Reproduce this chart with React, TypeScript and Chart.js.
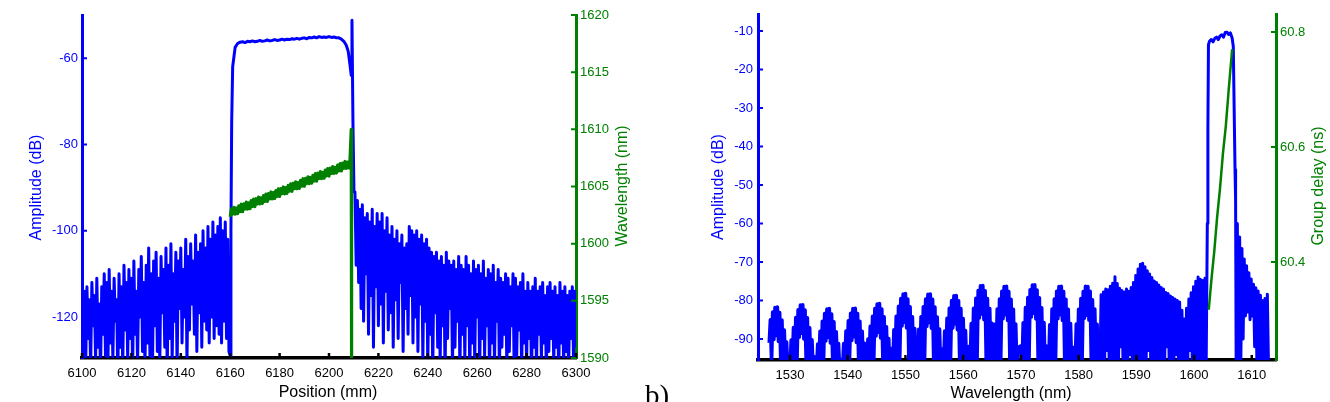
import React, { useEffect, useRef } from "react";
import { Chart, registerables } from "chart.js";

Chart.register(...registerables);

const BLUE = "#0000ff";
const GREEN = "#008000";
const BLACK = "#000000";
const FONT = '"Liberation Sans", Arial, Helvetica, sans-serif';

// ================= Panel (a): amplitude & wavelength vs position =================
const positionTicks = [6100, 6120, 6140, 6160, 6180, 6200, 6220, 6240, 6260, 6280, 6300];
const amplitudeTicksA = [-120, -100, -80, -60];
const wavelengthTicksA = [1590, 1595, 1600, 1605, 1610, 1615, 1620];

// noise floor before the grating (6100 .. 6159.5 mm, 0.5 mm sampling)
const preStart = 6100;
const preStep = 0.5;
const preAmplitude = [
  -112, -128, -114, -131, -113, -125, -116, -132, -112, -122,
  -115, -130, -111, -127, -117, -133, -113, -124, -110, -129,
  -112, -131, -109, -126, -114, -130, -111, -121, -116, -134,
  -110, -127, -113, -132, -108, -123, -112, -130, -109, -125,
  -111, -133, -107, -124, -114, -131, -109, -120, -106, -128,
  -112, -132, -108, -126, -104, -129, -110, -134, -107, -122,
  -105, -128, -111, -131, -106, -119, -109, -127, -104, -133,
  -108, -125, -103, -130, -110, -121, -105, -132, -107, -118,
  -104, -126, -109, -120, -102, -131, -106, -123, -103, -117,
  -107, -124, -101, -128, -105, -119, -103, -127, -100, -121,
  -104, -123, -99, -126, -102, -120, -98, -125, -101, -122,
  -99, -124, -97, -126, -100, -121, -98, -125, -102, -128,
];

// rising edge of the grating
const edgePosition = [6160, 6160.3, 6160.6, 6161, 6162, 6163];
const edgeAmplitude = [-129, -100, -75, -62, -57.5, -56.6];

// grating plateau (6164 .. 6203 mm, 1 mm sampling)
const plateauStart = 6164;
const plateauStep = 1;
const plateauAmplitude = [
  -56.3, -56.2, -56.4, -56.1, -56.2, -56.0, -56.2, -56.1, -55.9, -56.1,
  -56.0, -55.8, -56.0, -55.9, -55.7, -55.9, -55.8, -55.6, -55.8, -55.6,
  -55.7, -55.5, -55.6, -55.4, -55.6, -55.4, -55.3, -55.5, -55.2, -55.3,
  -55.1, -55.3, -55.0, -55.2, -55.1, -55.2, -55.0, -55.2, -55.1, -55.3,
];

// end of grating with reflection spike
const spikePosition = [6204, 6205, 6206, 6207, 6207.8, 6208.6, 6209.0, 6209.3, 6209.7, 6210.1];
const spikeAmplitude = [-55.3, -55.6, -56.1, -57.0, -58.5, -62.0, -64.0, -51.2, -75, -91];

// noise after the grating (6210.5 .. 6300 mm, 0.5 mm sampling)
const postStart = 6210.5;
const postStep = 0.5;
const postAmplitude = [
  -91, -108, -93, -112, -95, -118, -94, -121, -97, -110,
  -96, -124, -98, -115, -95, -127, -99, -113, -96, -122,
  -98, -117, -96, -126, -100, -114, -97, -123, -101, -119,
  -99, -127, -102, -116, -100, -125, -103, -112, -101, -128,
  -104, -118, -103, -124, -99, -115, -100, -126, -101, -120,
  -100, -128, -102, -117, -101, -130, -103, -121, -102, -132,
  -104, -124, -105, -133, -106, -119, -105, -127, -107, -131,
  -106, -122, -108, -134, -105, -125, -107, -118, -108, -132,
  -107, -127, -109, -121, -106, -133, -108, -124, -109, -130,
  -106, -122, -108, -134, -110, -126, -107, -131, -109, -120,
  -108, -133, -110, -125, -107, -129, -111, -122, -109, -134,
  -110, -126, -108, -131, -112, -121, -109, -133, -111, -127,
  -112, -124, -110, -132, -111, -128, -113, -122, -110, -134,
  -111, -129, -113, -123, -112, -133, -110, -126, -114, -131,
  -112, -125, -114, -134, -113, -127, -111, -132, -114, -124,
  -113, -130, -112, -126, -115, -133, -113, -128, -112, -125,
  -114, -131, -113, -127, -115, -134, -112, -126, -114, -132,
  -113, -128, -115, -133, -114, -125, -113, -130, -114, -127,
];

// local wavelength along the grating (6160 .. 6208.5 mm, 0.5 mm sampling)
const chirpStart = 6160;
const chirpStep = 0.5;
const chirpWavelength = [
  1602.35, 1603.04, 1602.59, 1603.18, 1602.58, 1603.12, 1602.62, 1603.31, 1602.81, 1603.45,
  1602.8, 1603.49, 1603.03, 1603.63, 1603.02, 1603.57, 1603.06, 1603.76, 1603.25, 1603.9,
  1603.24, 1603.93, 1603.48, 1604.07, 1603.47, 1604.01, 1603.51, 1604.2, 1603.7, 1604.34,
  1603.69, 1604.38, 1603.92, 1604.52, 1603.91, 1604.46, 1603.95, 1604.65, 1604.14, 1604.79,
  1604.13, 1604.82, 1604.37, 1604.96, 1604.36, 1604.9, 1604.4, 1605.09, 1604.59, 1605.23,
  1604.58, 1605.27, 1604.81, 1605.41, 1604.8, 1605.35, 1604.84, 1605.54, 1605.03, 1605.68,
  1605.02, 1605.71, 1605.26, 1605.85, 1605.25, 1605.79, 1605.29, 1605.98, 1605.48, 1606.12,
  1605.47, 1606.16, 1605.7, 1606.3, 1605.69, 1606.24, 1605.73, 1606.43, 1605.92, 1606.57,
  1605.91, 1606.6, 1606.15, 1606.74, 1606.14, 1606.68, 1606.18, 1606.87, 1606.37, 1607.01,
  1606.36, 1607.05, 1606.59, 1607.19, 1606.58, 1607.13, 1606.62, 1607.32,
];
const chirpEndPosition = [6209.0, 6209.15];
const chirpEndWavelength = [1610, 1588];

// ================= Panel (b): spectrum & group delay =================
const wavelengthTicksB = [1530, 1540, 1550, 1560, 1570, 1580, 1590, 1600, 1610];
const amplitudeTicksB = [-90, -80, -70, -60, -50, -40, -30, -20, -10];
const delayTicks = [60.4, 60.6, 60.8];

// interference fringes: centre wavelength of each fringe, samples every 0.2 nm from centre-2.2 nm
const fringeCenters = [1527.6, 1532.0, 1536.6, 1541.1, 1545.3, 1549.8, 1554.1, 1558.6, 1563.2, 1567.3, 1572.2, 1576.8, 1581.4];
const fringeStep = 0.2;
const fringeAmplitude: (number | null)[][] = [
  [null, null, null, null, null, -91, -85.0, -96, -83.0, -90.1, -81.8, -89.1, -81.7, -90.6, -83.1, -96, -85.1, -97, -87.7, -97, -90.8, -98, -95.2],
  [-94.5, -98, -90.3, -97, -87.0, -97, -84.4, -96, -82.4, -89.5, -81.2, -88.5, -81.1, -90.0, -82.5, -96, -84.5, -97, -87.1, -97, -90.2, -98, -94.6],
  [-95.5, -98, -91.3, -97, -88.0, -97, -85.4, -96, -83.4, -90.5, -82.2, -89.5, -82.1, -91.0, -83.5, -96, -85.5, -97, -88.1, -97, -91.2, -98, -95.6],
  [-95.4, -98, -91.2, -97, -87.9, -97, -85.3, -96, -83.3, -90.4, -82.1, -89.4, -82.0, -90.9, -83.4, -96, -85.4, -97, -88.0, -97, -91.1, -98, -95.5],
  [-94.2, -98, -90.0, -97, -86.7, -97, -84.1, -96, -82.1, -89.2, -80.9, -88.2, -80.8, -89.7, -82.2, -96, -84.2, -97, -86.8, -97, -89.9, -98, -94.3],
  [-92.5, -98, -87.6, -97, -84.1, -97, -81.5, -96, -79.5, -86.6, -78.3, -85.6, -78.2, -87.1, -79.6, -96, -81.6, -97, -84.2, -97, -87.3, -98, -92.5],
  [-92.6, -98, -87.5, -97, -84.2, -97, -81.6, -96, -79.6, -86.7, -78.4, -85.7, -78.3, -87.2, -79.7, -96, -81.7, -97, -84.3, -97, -87.4, -98, -92.6],
  [-93.0, -98, -87.9, -97, -84.6, -97, -82.0, -96, -80.0, -87.1, -78.8, -86.1, -78.7, -87.6, -80.1, -96, -82.1, -97, -84.7, -97, -87.8, -98, -93.0],
  [-92.0, -98, -86.0, -97, -82.0, -97, -79.4, -96, -77.4, -84.5, -76.2, -83.5, -76.1, -85.0, -77.5, -96, -79.5, -97, -82.1, -97, -85.9, -98, -92.0],
  [-92.2, -98, -86.2, -97, -82.2, -97, -79.6, -96, -77.6, -84.7, -76.4, -83.7, -76.3, -85.2, -77.7, -96, -79.7, -97, -82.3, -97, -86.1, -98, -92.2],
  [-91.8, -98, -85.8, -97, -81.8, -97, -79.2, -96, -77.2, -84.3, -76.0, -83.3, -75.9, -84.8, -77.3, -96, -79.3, -97, -81.9, -97, -85.7, -98, -91.8],
  [-92.2, -98, -86.3, -97, -82.2, -97, -79.6, -96, -77.6, -84.7, -76.4, -83.7, -76.3, -85.2, -77.7, -96, -79.7, -97, -82.3, -97, -86.0, -98, -92.2],
  [-92.2, -98, -86.1, -97, -82.3, -97, -79.5, -96, -77.7, -84.6, -76.3, -83.8, -76.4, -85.1, -77.6, -96, -79.8, -97, -82.2, -97, -86.2, -98, -92.2],
];

// dense noise band (1583.7 .. 1602.1 nm, 0.2 nm sampling)
const denseStart = 1583.7;
const denseStep = 0.2;
const denseAmplitude = [
  -97, -78.5, -96, -77.8, -97, -77.0, -93, -77.2, -97, -76.3,
  -96, -75.5, -97, -73.8, -95, -75.6, -97, -76.8, -92, -77.4,
  -97, -77.8, -96, -77.0, -97, -77.6, -94, -76.6, -97, -75.3,
  -96, -73.5, -97, -71.8, -95, -70.6, -97, -70.3, -96, -71.2,
  -97, -72.3, -93, -73.1, -97, -74.0, -96, -74.9, -97, -75.3,
  -95, -76.0, -97, -76.6, -96, -77.0, -97, -77.9, -92, -78.2,
  -97, -78.8, -96, -79.2, -97, -79.6, -94, -80.0, -97, -80.4,
  -96, -82.5, -97, -84.8, -96, -82.0, -97, -79.6, -93, -78.0,
  -97, -76.4, -96, -75.0, -97, -73.9, -95, -74.5, -97, -74.8,
  -96, -74.2, -97,
];

// grating reflection band
const peakWavelength = [1602.3, 1602.4, 1602.5, 1602.7, 1603.0, 1603.3, 1603.6, 1603.9, 1604.2, 1604.5, 1604.8, 1605.1, 1605.4, 1605.7, 1606.0, 1606.3, 1606.6, 1606.8, 1606.95, 1607.1, 1607.2];
const peakAmplitude = [-60, -35, -13.5, -12.6, -12.2, -12.8, -11.9, -11.6, -12.2, -11.3, -11.0, -11.6, -10.4, -10.3, -10.9, -10.5, -11.8, -14, -30, -46, -54];

// decaying tail after the band (1607.3 .. 1612.9 nm, 0.2 nm sampling)
const tailStart = 1607.3;
const tailStep = 0.2;
const tailAmplitude = [
  -97, -60, -96, -63.5, -97, -66.5, -90, -69.2, -84, -71.0,
  -83, -72.8, -85, -74.4, -84, -75.8, -92, -76.7, -97, -77.5,
  -96, -78.6, -97, -80.0, -97, -79.5, -96, -78.4, -97,
];

// group delay across the band
const delayWavelength = [1602.55, 1603.0, 1603.5, 1604.0, 1604.5, 1605.0, 1605.5, 1606.0, 1606.6];
const delayNs = [60.317, 60.368, 60.418, 60.478, 60.528, 60.588, 60.636, 60.699, 60.77];

// ================= helpers =================
type Pt = { x: number; y: number };
function seq(start: number, step: number, ys: (number | null)[]): Pt[] {
  const out: Pt[] = [];
  ys.forEach((y, i) => {
    if (y !== null) out.push({ x: +(start + i * step).toFixed(3), y });
  });
  return out;
}
function pairs(xs: number[], ys: number[]): Pt[] {
  return xs.map((x, i) => ({ x, y: ys[i] }));
}

type TitleSpec = { text: string; x: number; y: number; rot: boolean; color: string };
type TickSpec = { scaleId: string; side: "bottom" | "left" | "right"; color: string; values: number[]; width: number };

function decorPlugin(titles: TitleSpec[], ticks: TickSpec[]) {
  return {
    id: "decor",
    afterDraw(chart: any) {
      const ctx = chart.ctx as CanvasRenderingContext2D;
      const a = chart.chartArea;
      ctx.save();
      for (const t of ticks) {
        const s = chart.scales[t.scaleId];
        ctx.strokeStyle = t.color;
        ctx.lineWidth = t.width;
        ctx.beginPath();
        for (const v of t.values) {
          const p = s.getPixelForValue(v);
          if (t.side === "bottom") {
            ctx.moveTo(p, a.bottom);
            ctx.lineTo(p, a.bottom - 5);
          } else if (t.side === "left") {
            ctx.moveTo(a.left, p);
            ctx.lineTo(a.left + 5, p);
          } else {
            ctx.moveTo(a.right, p);
            ctx.lineTo(a.right - 5, p);
          }
        }
        ctx.stroke();
      }
      ctx.font = `16px ${FONT}`;
      for (const t of titles) {
        ctx.save();
        ctx.fillStyle = t.color;
        ctx.textAlign = "center";
        ctx.textBaseline = "alphabetic";
        ctx.translate(t.x, t.y);
        if (t.rot) ctx.rotate(-Math.PI / 2);
        ctx.fillText(t.text, 0, 0);
        ctx.restore();
      }
      ctx.restore();
    },
  };
}

function axisCfg(o: {
  position: string;
  min: number;
  max: number;
  ticks: number[];
  color: string;
  size: number;
  padding: number;
  borderWidth: number;
}) {
  const horizontal = o.position === "bottom";
  return {
    type: "linear",
    position: o.position,
    min: o.min,
    max: o.max,
    z: 1,
    afterBuildTicks: (s: any) => {
      s.ticks = o.ticks.map((v) => ({ value: v }));
    },
    afterFit: (s: any) => {
      if (horizontal) s.height = o.size;
      else s.width = o.size;
    },
    grid: { display: false, drawTicks: false },
    border: { display: true, color: o.color, width: o.borderWidth },
    ticks: {
      color: o.color,
      font: { family: FONT, size: 13 },
      padding: o.padding,
      autoSkip: false,
      maxRotation: 0,
      callback: (v: any) => String(v),
    },
  };
}

function lineDs(data: Pt[], color: string, axisId: string, width: number, order: number) {
  return {
    data,
    yAxisID: axisId,
    borderColor: color,
    backgroundColor: color,
    borderWidth: width,
    pointRadius: 0,
    tension: 0,
    fill: false,
    borderJoinStyle: "round",
    clip: 0,
    order,
  };
}

function baseOptions(padTop: number, scales: any) {
  return {
    responsive: false,
    animation: false,
    events: [],
    layout: { padding: { top: padTop, left: 0, right: 0, bottom: 0 } },
    plugins: { legend: { display: false }, tooltip: { enabled: false }, title: { display: false } },
    scales,
  };
}

export default function App() {
  const refA = useRef<HTMLCanvasElement>(null);
  const refB = useRef<HTMLCanvasElement>(null);

  useEffect(() => {
    const blueA = [
      ...seq(preStart, preStep, preAmplitude),
      ...pairs(edgePosition, edgeAmplitude),
      ...seq(plateauStart, plateauStep, plateauAmplitude),
      ...pairs(spikePosition, spikeAmplitude),
      ...seq(postStart, postStep, postAmplitude),
    ];
    const greenA = [...seq(chirpStart, chirpStep, chirpWavelength), ...pairs(chirpEndPosition, chirpEndWavelength)];

    const chartA = new Chart(refA.current as HTMLCanvasElement, {
      type: "line",
      data: {
        datasets: [lineDs(blueA, BLUE, "y", 3, 1), lineDs(greenA, GREEN, "y1", 3.2, 0)] as any,
      },
      options: baseOptions(15, {
        x: axisCfg({ position: "bottom", min: 6100, max: 6300, ticks: positionTicks, color: BLACK, size: 44, padding: 8, borderWidth: 3.5 }),
        y: axisCfg({ position: "left", min: -129.5, max: -50, ticks: amplitudeTicksA, color: BLUE, size: 82, padding: 4, borderWidth: 3 }),
        y1: axisCfg({ position: "right", min: 1590, max: 1620, ticks: wavelengthTicksA, color: GREEN, size: 84, padding: 4, borderWidth: 3 }),
      }) as any,
      plugins: [
        decorPlugin(
          [
            { text: "Amplitude (dB)", x: 40.5, y: 187.5, rot: true, color: BLUE },
            { text: "Wavelength (nm)", x: 626.5, y: 186, rot: true, color: GREEN },
            { text: "Position (mm)", x: 328, y: 397, rot: false, color: BLACK },
          ],
          [
            { scaleId: "x", side: "bottom", color: BLACK, values: positionTicks, width: 2.5 },
            { scaleId: "y", side: "left", color: BLUE, values: amplitudeTicksA, width: 2 },
            { scaleId: "y1", side: "right", color: GREEN, values: wavelengthTicksA, width: 2 },
          ]
        ),
      ],
    });

    const fringesB = fringeCenters.flatMap((c, k) => seq(c - 2.2, fringeStep, fringeAmplitude[k]));
    const blueB = [
      ...seq(denseStart, denseStep, denseAmplitude),
      ...pairs(peakWavelength, peakAmplitude),
      ...seq(tailStart, tailStep, tailAmplitude),
    ];
    const greenB = pairs(delayWavelength, delayNs);

    const chartB = new Chart(refB.current as HTMLCanvasElement, {
      type: "line",
      data: {
        datasets: [
          lineDs(fringesB, BLUE, "y", 3.6, 2),
          lineDs(blueB, BLUE, "y", 3, 1),
          lineDs(greenB, GREEN, "y1", 2.5, 0),
        ] as any,
      },
      options: baseOptions(14, {
        x: axisCfg({ position: "bottom", min: 1524.45, max: 1614.2, ticks: wavelengthTicksB, color: BLACK, size: 42, padding: 8, borderWidth: 3.5 }),
        y: axisCfg({ position: "left", min: -95.45, max: -5.58, ticks: amplitudeTicksB, color: BLUE, size: 98, padding: 5, borderWidth: 3 }),
        y1: axisCfg({ position: "right", min: 60.2296, max: 60.8313, ticks: delayTicks, color: GREEN, size: 54, padding: 4, borderWidth: 3 }),
      }) as any,
      plugins: [
        decorPlugin(
          [
            { text: "Amplitude (dB)", x: 63, y: 187, rot: true, color: BLUE },
            { text: "Group delay (ns)", x: 663, y: 186, rot: true, color: GREEN },
            { text: "Wavelength (nm)", x: 351, y: 397.5, rot: false, color: BLACK },
          ],
          [
            { scaleId: "x", side: "bottom", color: BLACK, values: wavelengthTicksB, width: 2.5 },
            { scaleId: "y", side: "left", color: BLUE, values: amplitudeTicksB, width: 2 },
            { scaleId: "y1", side: "right", color: GREEN, values: delayTicks, width: 2 },
          ]
        ),
      ],
    });

    return () => {
      chartA.destroy();
      chartB.destroy();
    };
  }, []);

  return (
    <div
      style={{
        position: "fixed",
        left: 0,
        top: 0,
        width: 1330,
        height: 402,
        overflow: "hidden",
        background: "#ffffff",
      }}
    >
      <canvas ref={refA} width={660} height={402} style={{ position: "absolute", left: 0, top: 0, width: 660, height: 402 }} />
      <canvas ref={refB} width={670} height={402} style={{ position: "absolute", left: 660, top: 0, width: 670, height: 402 }} />
      <span
        style={{
          position: "absolute",
          left: 645,
          top: 381,
          fontFamily: '"Liberation Serif", "Times New Roman", serif',
          fontSize: 29,
          lineHeight: 1,
          color: "#000",
          whiteSpace: "nowrap",
        }}
      >
        b)
      </span>
    </div>
  );
}
